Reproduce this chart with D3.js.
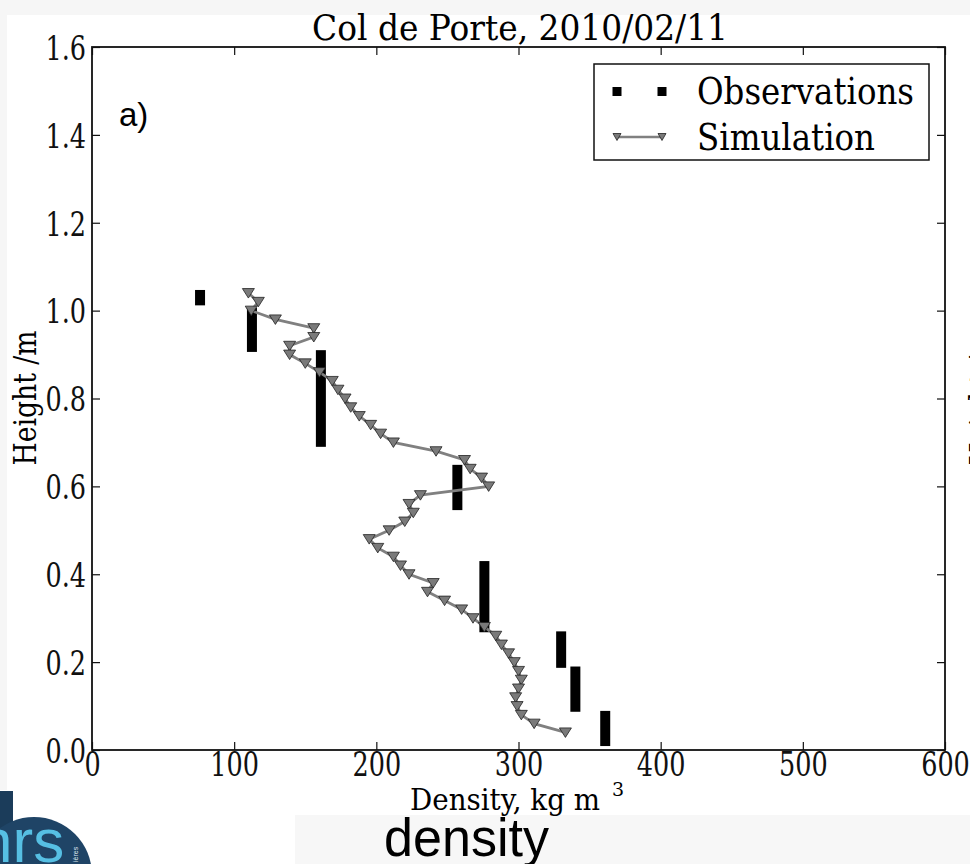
<!DOCTYPE html>
<html>
<head>
<meta charset="utf-8">
<script src="https://cdn.jsdelivr.net/npm/d3@7"></script>
<style>
  body { margin: 0; background: #fff; }
  svg { display: block; }
</style>
</head>
<body>
<svg width="970" height="864"></svg>
<script>
// observations: density and the vertical extent of each measured layer
const obsDensity = [76, 112.5, 161, 257, 276, 330, 340, 361];
const obsTop     = [1.047, 1.006, 0.91, 0.649, 0.43, 0.27, 0.19, 0.089];
const obsBottom  = [1.012, 0.906, 0.69, 0.546, 0.268, 0.187, 0.087, 0.009];

// simulation profile
const simHeight = [1.04, 1.02, 1.00, 0.98, 0.96, 0.94, 0.92, 0.90, 0.88, 0.86,
                   0.84, 0.82, 0.80, 0.78, 0.76, 0.74, 0.72, 0.70, 0.68, 0.66,
                   0.64, 0.62, 0.60, 0.58, 0.56, 0.54, 0.52, 0.50, 0.48, 0.46,
                   0.44, 0.42, 0.40, 0.38, 0.36, 0.34, 0.32, 0.30, 0.28, 0.26,
                   0.24, 0.22, 0.20, 0.18, 0.16, 0.14, 0.12, 0.10, 0.08, 0.06, 0.04];
const simDensity = [110, 117, 112, 129, 156, 156, 139, 139, 150, 160,
                    169, 173, 178, 182, 188, 196, 203, 212, 242, 262,
                    266, 274, 279, 231, 223, 226, 220, 209, 195, 201,
                    212, 217, 223, 240, 236, 248, 260, 268, 276, 284,
                    288, 293, 297, 300, 302, 300, 298, 299, 302, 311, 333];

const xTicks = [0, 100, 200, 300, 400, 500, 600];
const yTicks = [0.0, 0.2, 0.4, 0.6, 0.8, 1.0, 1.2, 1.4, 1.6];

const svg = d3.select('svg');
const margin = {left: 92, top: 47};
const width = 853, height = 703;
const serif = 'DejaVu Serif';

// squeeze text horizontally like the original figure
function condense(sel, k) {
  sel.each(function() {
    const len = this.getComputedTextLength();
    d3.select(this).attr('textLength', len * k).attr('lengthAdjust', 'spacingAndGlyphs');
  });
}

// page background bits around the figure
svg.append('rect').attr('x', 0).attr('y', 0).attr('width', 970).attr('height', 15).attr('fill', '#f6f6f6');
svg.append('rect').attr('x', 0).attr('y', 0).attr('width', 7).attr('height', 790).attr('fill', '#f6f6f6');
svg.append('rect').attr('x', 295).attr('y', 815).attr('width', 675).attr('height', 49).attr('fill', '#f7f7f7');

const xScale = d3.scaleLinear().domain([0, 600]).range([0, width]);
const yScale = d3.scaleLinear().domain([0, 1.6]).range([height, 0]);

const g = svg.append('g').attr('transform', `translate(${margin.left},${margin.top})`);

// axes with inward ticks on all four sides
const axisLeft = g.append('g')
  .call(d3.axisLeft(yScale).tickValues(yTicks).tickSize(-8).tickPadding(6).tickFormat(d3.format('.1f')));
const axisBottom = g.append('g').attr('transform', `translate(0,${height})`)
  .call(d3.axisBottom(xScale).tickValues(xTicks).tickSize(-8).tickPadding(4).tickFormat(d3.format('d')));
g.append('g').attr('transform', `translate(${width},0)`)
  .call(d3.axisRight(yScale).tickValues(yTicks).tickSize(-8).tickFormat(''));
g.append('g')
  .call(d3.axisTop(xScale).tickValues(xTicks).tickSize(-8).tickFormat(''));

g.selectAll('.domain').remove();
g.selectAll('.tick line').attr('stroke', '#111').attr('stroke-width', 1.2);
g.selectAll('.tick text').attr('font-family', serif).attr('font-size', 34).attr('fill', '#111');
axisLeft.selectAll('.tick text').attr('dy', '0.36em');
axisBottom.selectAll('.tick text').attr('dy', '0.66em');
condense(g.selectAll('.tick text'), 0.75);

// observations drawn as thick black layers
g.selectAll('.obs')
  .data(obsDensity)
  .enter()
  .append('rect')
  .classed('obs', true)
  .attr('x', (d) => xScale(d) - 5)
  .attr('width', 10)
  .attr('y', (d, i) => yScale(obsTop[i]))
  .attr('height', (d, i) => yScale(obsBottom[i]) - yScale(obsTop[i]))
  .attr('fill', '#000');

// simulation line + triangle markers
const simData = simDensity.map((d, i) => ({x: d, y: simHeight[i]}));
const line = d3.line().x(d => xScale(d.x)).y(d => yScale(d.y));
g.append('path').datum(simData)
  .attr('d', line)
  .attr('fill', 'none')
  .attr('stroke', '#808080')
  .attr('stroke-width', 2.8);

const tri = 'M-6,-4.5 L6,-4.5 L0,5 Z';
g.selectAll('.sim')
  .data(simData)
  .enter()
  .append('path')
  .classed('sim', true)
  .attr('d', tri)
  .attr('transform', d => `translate(${xScale(d.x)},${yScale(d.y)})`)
  .attr('fill', '#7a7a7a')
  .attr('stroke', '#222')
  .attr('stroke-width', 0.8);

// frame
g.append('rect').attr('width', width).attr('height', height)
  .attr('fill', 'none').attr('stroke', '#111').attr('stroke-width', 1.8);

// panel tag
g.append('text').attr('x', 27).attr('y', 79)
  .attr('font-family', 'Liberation Sans').attr('font-size', 33).text('a)');

// legend
const leg = svg.append('g');
leg.append('rect').attr('x', 594).attr('y', 64).attr('width', 335).attr('height', 96)
  .attr('fill', '#fff').attr('stroke', '#111').attr('stroke-width', 1.5);
leg.selectAll('.lobs').data([617, 662]).enter().append('rect')
  .attr('x', d => d - 4.5).attr('y', 87).attr('width', 9).attr('height', 9).attr('fill', '#000');
leg.append('line').attr('x1', 617).attr('x2', 662).attr('y1', 137).attr('y2', 137)
  .attr('stroke', '#808080').attr('stroke-width', 2.5);
leg.selectAll('.ltri').data([617, 662]).enter().append('path')
  .attr('d', 'M-4,-3.5 L4,-3.5 L0,3.5 Z')
  .attr('transform', d => `translate(${d},137)`)
  .attr('fill', '#7a7a7a').attr('stroke', '#222').attr('stroke-width', 0.8);
leg.append('text').attr('x', 697).attr('y', 104).attr('font-family', serif).attr('font-size', 38)
  .attr('textLength', 217).attr('lengthAdjust', 'spacingAndGlyphs').text('Observations');
leg.append('text').attr('x', 697).attr('y', 150).attr('font-family', serif).attr('font-size', 38)
  .attr('textLength', 178).attr('lengthAdjust', 'spacingAndGlyphs').text('Simulation');

// title and axis labels
svg.append('text').attr('x', 520).attr('y', 40).attr('text-anchor', 'middle')
  .attr('font-family', serif).attr('font-size', 36)
  .attr('textLength', 416).attr('lengthAdjust', 'spacingAndGlyphs')
  .text('Col de Porte, 2010/02/11');

const xl = svg.append('text').attr('x', 410).attr('y', 810).attr('font-family', serif).attr('font-size', 30);
xl.append('tspan').attr('textLength', 190).attr('lengthAdjust', 'spacingAndGlyphs').text('Density, kg m');
xl.append('tspan').attr('dx', 12).attr('dy', -14).attr('font-size', 19).text('3');

svg.append('text').attr('transform', 'translate(36,398) rotate(-90)').attr('text-anchor', 'middle')
  .attr('font-family', serif).attr('font-size', 32)
  .attr('textLength', 135).attr('lengthAdjust', 'spacingAndGlyphs').text('Height /m');

// neighbouring panel's label, cut off at the right edge
svg.append('text').attr('transform', 'translate(992,398) rotate(-90)').attr('text-anchor', 'middle')
  .attr('font-family', serif).attr('font-size', 32)
  .attr('textLength', 135).attr('lengthAdjust', 'spacingAndGlyphs').text('Height /m');

// bottom slide fragments
svg.append('text').attr('x', 384).attr('y', 856)
  .attr('font-family', 'Liberation Sans').attr('font-size', 53)
  .attr('textLength', 165).attr('lengthAdjust', 'spacingAndGlyphs').text('density');

const logo = svg.append('g');
logo.append('rect').attr('x', 0).attr('y', 791).attr('width', 13).attr('height', 73).attr('fill', '#1b3c5a');
logo.append('circle').attr('cx', 34).attr('cy', 875).attr('r', 58).attr('fill', '#1f4466');
logo.append('text').attr('x', -22).attr('y', 862)
  .attr('font-family', 'Liberation Sans').attr('font-size', 62).attr('fill', '#56bfe3')
  .text('nrs');
logo.append('text').attr('transform', 'translate(78,862) rotate(-90)')
  .attr('font-family', 'Liberation Sans').attr('font-size', 7).attr('fill', '#dde6ee')
  .text('ières');
</script>
</body>
</html>
